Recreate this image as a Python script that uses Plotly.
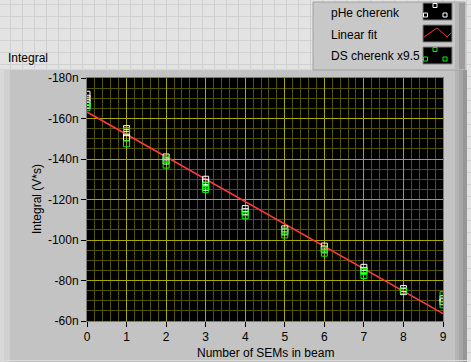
import plotly.graph_objects as go

# ---- data ----
x_phe = [0, 0, 0, 0, 1, 1, 1, 2, 2, 3, 3, 3, 4, 4, 5, 5, 6, 6, 7, 7, 8, 8, 9, 9]
y_phe = [-172, -170, -168, -166.5, -155, -153, -150.5, -141, -139, -130, -128.5, -126,
         -115.5, -114, -105.5, -104, -97, -95.5, -86.5, -85, -76, -74.5, -71, -69.5]
x_ds = [0, 0, 1, 1, 2, 2, 3, 3, 4, 4, 5, 5, 6, 6, 7, 7, 8, 9, 9]
y_ds = [-167, -165.5, -154, -147.5, -140, -137, -127, -125, -113.5, -112,
        -104.5, -102.5, -95, -93.5, -84.5, -82.5, -75, -73, -68]
fit_x = [0, 9]
fit_y = [-163.2, -63.6]

y_tickvals = [-180, -160, -140, -120, -100, -80, -60]
y_ticktext = ["-180n", "-160n", "-140n", "-120n", "-100n", "-80n", "-60n"]
x_tickvals = [0, 1, 2, 3, 4, 5, 6, 7, 8, 9]

W, H = 471, 362
L, R, T, B = 87, 443, 78, 321
FONT = "Liberation Sans"


def px(x):
    return (x - L) / (R - L)


def py(y):
    return (B - y) / (B - T)


shapes = []


def rect(x0, y0, x1, y1, fill, line=None, lw=0):
    shapes.append(dict(type="rect", xref="paper", yref="paper", layer="below",
                       x0=px(x0), x1=px(x1), y0=py(y1), y1=py(y0),
                       fillcolor=fill, line=dict(color=line or fill, width=lw)))


def hline(x0, x1, y, color, w=1):
    shapes.append(dict(type="line", xref="paper", yref="paper", layer="below",
                       x0=px(x0), x1=px(x1), y0=py(y), y1=py(y),
                       line=dict(color=color, width=w)))


def vline(x, y0, y1, color, w=1):
    shapes.append(dict(type="line", xref="paper", yref="paper", layer="below",
                       x0=px(x), x1=px(x), y0=py(y0), y1=py(y1),
                       line=dict(color=color, width=w)))


# light front-panel grid background (top strip + right strip)
rect(0, 0, W, 69, "#e3e3e3")
rect(467, 0, W, H, "#e3e3e3")
for gx in range(10, W, 12):
    vline(gx + 0.5, 0, 69, "#d0d0d0")
    if gx > 467:
        vline(gx + 0.5, 69, H, "#d0d0d0")
for gy in range(4, 69, 12):
    hline(0, W, gy + 0.5, "#d0d0d0")
for gy in range(76, H, 12):
    hline(467, W, gy + 0.5, "#d0d0d0")

# panel bevels
rect(0, 69, 10, H, "#cfcfcf")
rect(0, 69, 4, H, "#d8d8d8")
rect(455, 69, 459, H, "#b4b4b4")
rect(459, 69, 463, H, "#a6a6a6")
rect(463, 69, 467, H, "#969696")
hline(0, 467, 69.5, "#d6d6d6")
hline(0, 467, 360.5, "#dadada")

# legend box
rect(313, 2, 465, 70, "#c8c8c8", "#a0a0a0", 1)
rect(455, 3, 459, 69, "#b6b6b6")
rect(459, 3, 465, 69, "#9c9c9c")
for (yy0, yy1) in [(3, 20), (25, 42), (47, 64)]:
    rect(423, yy0, 452, yy1, "#000000", "#808080", 1)


def sq(cx, cy, color, s=4):
    shapes.append(dict(type="rect", xref="paper", yref="paper", layer="above",
                       x0=px(cx - s / 2), x1=px(cx + s / 2), y0=py(cy + s / 2), y1=py(cy - s / 2),
                       fillcolor="rgba(0,0,0,0)", line=dict(color=color, width=1)))


for dy, col in [(0, "#ffffff"), (44, "#00ff00")]:
    sq(435, 5.5 + dy, col)
    sq(425.5, 15 + dy, col)
    sq(445, 15 + dy, col)

pts = [(424, 37), (437, 28), (447, 37), (451, 33)]
path = "M " + " L ".join(f"{px(a)},{py(b)}" for a, b in pts)
shapes.append(dict(type="path", xref="paper", yref="paper", layer="above", path=path,
                   line=dict(color="#ff3030", width=1)))

annotations = []


def text(x, y, s, xanchor="left", angle=0, size=12):
    annotations.append(dict(xref="paper", yref="paper", x=px(x), y=py(y), text=s,
                            showarrow=False, xanchor=xanchor, yanchor="middle",
                            textangle=angle, font=dict(family=FONT, size=size, color="#000000")))


text(329, 12.5, "pHe cherenk")
text(329, 34.5, "Linear fit")
text(329, 56.5, "DS cherenk x9.5")
text(6, 58, "Integral")
text(265, 353, "Number of SEMs in beam", xanchor="center")
text(37, 199, "Integral (V*s)", xanchor="center", angle=-90)

fig = go.Figure()
fig.add_trace(go.Scatter(x=fit_x, y=fit_y, mode="lines",
                         line=dict(color="#ff3a3a", width=1.5), name="Linear fit"))
fig.add_trace(go.Scatter(x=x_phe, y=y_phe, mode="markers", name="pHe cherenk",
                         marker=dict(symbol="square-open", size=6,
                                     color="#ffffff", line=dict(width=1, color="#ffffff"))))
fig.add_trace(go.Scatter(x=x_ds, y=y_ds, mode="markers", name="DS cherenk x9.5",
                         marker=dict(symbol="square-open", size=6,
                                     color="#00ff00", line=dict(width=1, color="#00ff00"))))

axis_common = dict(showline=True, linecolor="#7a7a7a", linewidth=1, mirror=True,
                   ticks="outside", ticklen=5, tickcolor="#000000", tickwidth=1,
                   gridcolor="#a8a800", gridwidth=1, zeroline=False,
                   tickfont=dict(family=FONT, size=12, color="#000000"))

fig.update_layout(
    width=W, height=H,
    margin=dict(l=L, r=W - R, t=T, b=H - B),
    paper_bgcolor="#c3c3c3",
    plot_bgcolor="#000000",
    showlegend=False,
    shapes=shapes,
    annotations=annotations,
    xaxis=dict(range=[0, 9], tickvals=x_tickvals,
               minor=dict(dtick=0.2, showgrid=True, gridcolor="#545400", gridwidth=1),
               **axis_common),
    yaxis=dict(range=[-60, -180], tickvals=y_tickvals, ticktext=y_ticktext,
               minor=dict(dtick=5, tick0=0, showgrid=True, gridcolor="#545400", gridwidth=1),
               **axis_common),
)

fig.write_html("out.html")
